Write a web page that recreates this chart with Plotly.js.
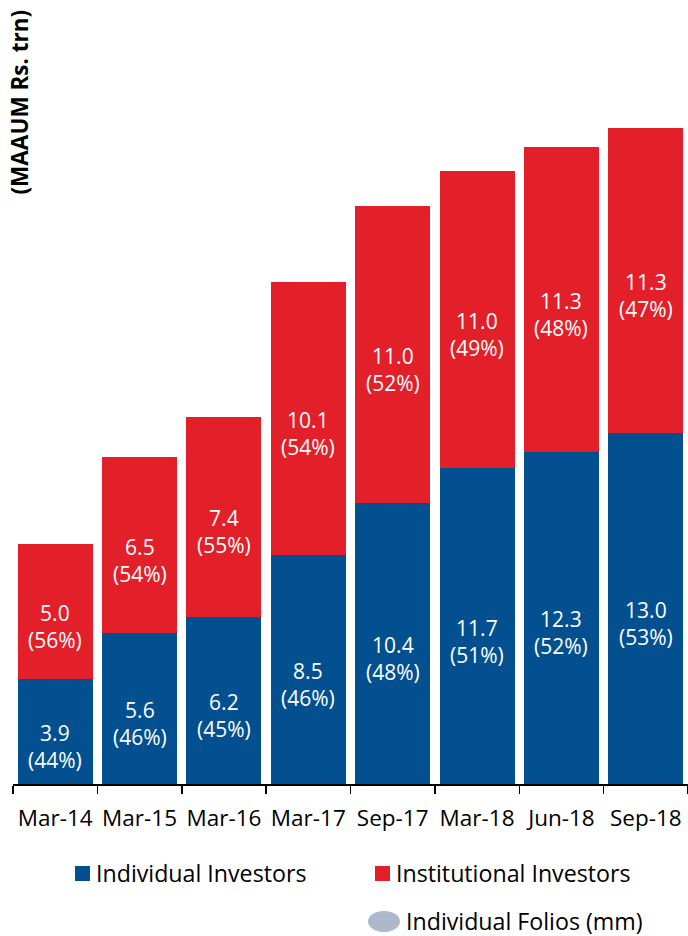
<!DOCTYPE html>
<html>
<head>
<meta charset="utf-8">
<script src="https://cdn.plot.ly/plotly-3.0.1.min.js"></script>
<style>html,body{margin:0;padding:0;background:#fff;}#chart{width:688px;height:936px;}</style>
</head>
<body>
<div id="chart"></div>
<script>
const categories = ["Mar-14","Mar-15","Mar-16","Mar-17","Sep-17","Mar-18","Jun-18","Sep-18"];
const individual = [3.9, 5.6, 6.2, 8.5, 10.4, 11.7, 12.3, 13.0];
const institutional = [5.0, 6.5, 7.4, 10.1, 11.0, 11.0, 11.3, 11.3];
const individualPct = [44, 46, 45, 46, 48, 51, 52, 53];
const institutionalPct = [56, 54, 55, 54, 52, 49, 48, 47];
const seriesNames = ["Individual Investors", "Institutional Investors", "Individual Folios (mm)"];
const yTitle = "(MAAUM Rs. trn)";

const BLUE = "#02508f", RED = "#e3202a", GREY = "#adb9ca";
const FONT = "'Open Sans', sans-serif";
const W = 688, H = 936, ML = 13, MR = 0, MT = 28, MB = 152;
const PW = W - ML - MR, PH = H - MT - MB;
const px = x => (x - ML) / PW;          // pixel x -> paper x
const py = y => (H - MB - y) / PH;      // pixel y -> paper y

const traces = [
  {type: "bar", name: seriesNames[0], x: categories, y: individual,
   marker: {color: BLUE}, hoverinfo: "skip", showlegend: false},
  {type: "bar", name: seriesNames[1], x: categories, y: institutional,
   marker: {color: RED}, hoverinfo: "skip", showlegend: false}
];

const LABEL_FONT = {family: FONT, size: 21, color: "#ffffff"};
const annotations = [];
categories.forEach((c, i) => {
  annotations.push({x: c, y: individual[i] / 2, xref: "x", yref: "y", yshift: -15,
    text: individual[i].toFixed(1) + "<br>(" + individualPct[i] + "%)", showarrow: false,
    font: LABEL_FONT});
  annotations.push({x: c, y: individual[i] + institutional[i] / 2, xref: "x", yref: "y", yshift: -15,
    text: institutional[i].toFixed(1) + "<br>(" + institutionalPct[i] + "%)", showarrow: false,
    font: LABEL_FONT});
});
annotations.push({xref: "paper", yref: "paper", x: px(19), y: py(8), xanchor: "center", yanchor: "top",
  textangle: -90, text: "<b>" + yTitle + "</b>", showarrow: false,
  font: {family: FONT, size: 22.5, color: "#000000"}});
// legend texts
const LEG_FONT = {family: FONT, size: 23.2, color: "#000"};
annotations.push({xref: "paper", yref: "paper", x: px(94), y: py(873), xanchor: "left", yanchor: "middle",
  text: seriesNames[0], showarrow: false, font: LEG_FONT});
annotations.push({xref: "paper", yref: "paper", x: px(394), y: py(873), xanchor: "left", yanchor: "middle",
  text: seriesNames[1], showarrow: false, font: LEG_FONT});
annotations.push({xref: "paper", yref: "paper", x: px(404), y: py(921), xanchor: "left", yanchor: "middle",
  text: seriesNames[2], showarrow: false, font: LEG_FONT});

const shapes = [
  {type: "rect", xref: "paper", yref: "paper", x0: px(75), x1: px(90), y0: py(881), y1: py(866),
   fillcolor: BLUE, line: {width: 0}},
  {type: "rect", xref: "paper", yref: "paper", x0: px(375), x1: px(390), y0: py(881), y1: py(866),
   fillcolor: RED, line: {width: 0}},
  {type: "circle", xref: "paper", yref: "paper", x0: px(368), x1: px(400), y0: py(932), y1: py(911),
   fillcolor: GREY, line: {width: 0}}
];

const layout = {
  width: W, height: H,
  margin: {l: ML, r: MR, t: MT, b: MB, pad: 0},
  barmode: "stack", bargap: 0.11,
  paper_bgcolor: "#ffffff", plot_bgcolor: "#ffffff",
  showlegend: false,
  xaxis: {type: "category", showline: true, linecolor: "#000", linewidth: 1.5,
    ticks: "outside", tickson: "boundaries", ticklen: 8, tickcolor: "#000", tickwidth: 1.5,
    ticklabelstandoff: 13, tickangle: 0,
    tickfont: {family: FONT, size: 22.5, color: "#000"}, showgrid: false, zeroline: false},
  yaxis: {range: [0, 28], visible: false, showgrid: false, zeroline: false},
  annotations: annotations,
  shapes: shapes
};

Plotly.newPlot("chart", traces, layout, {staticPlot: true, displayModeBar: false});
</script>
</body>
</html>
